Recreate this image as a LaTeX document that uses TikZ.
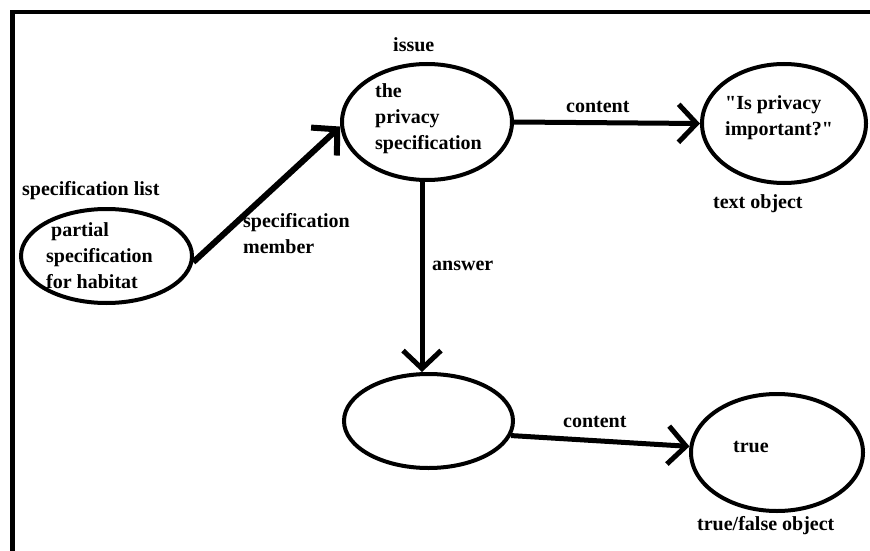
\documentclass[tikz,border=0pt]{standalone}
\usepackage{fontspec}
\setmainfont{Liberation Serif}
\usetikzlibrary{arrows.meta,shapes.geometric}
\begin{document}
\begin{tikzpicture}[x=1pt,y=-1pt,
  ell/.style={draw, ellipse, line width=4pt, inner sep=0pt},
  lbl/.style={font=\fontsize{20}{26}\selectfont\bfseries, inner sep=0pt, anchor=base west, align=left},
  arr/.style={line width=5pt, -{Straight Barb[length=18pt,width=38pt]}}]
\useasboundingbox (0,0) rectangle (870,551);
% frame on the left and top edges
\draw[line width=4.5pt] (12.5,551) -- (12.5,12) -- (870,12);
% concept ellipses
\node[ell, minimum width=171pt, minimum height=94pt]  (A) at (106.5,256) {};
\node[ell, minimum width=170pt, minimum height=116pt] (B) at (427,122) {};
\node[ell, minimum width=164pt, minimum height=119pt] (C) at (784,123.5) {};
\node[ell, minimum width=169pt, minimum height=94pt]  (D) at (428.5,421) {};
\node[ell, minimum width=172pt, minimum height=117pt] (E) at (777,452.5) {};
% texts (multi-line nodes are placed by the baseline of their last line)
\node[lbl] (tA) at (46,288) {\hspace*{5pt}partial\\specification\\for habitat};
\node[lbl] (lA) at (22,195) {specification list};
\node[lbl] (tB) at (375,149) {the\\privacy\\specification};
\node[lbl] (lB) at (393,52) {issue};
\node[lbl, font=\fontsize{20}{25}\selectfont\bfseries] (tC) at (725,135) {\textquotedbl Is privacy\\important?\textquotedbl};
\node[lbl] (lC) at (713,208) {text object};
\node[lbl] (tE) at (733,452) {true};
\node[lbl] (lE) at (697,530) {true/false object};
% connectors
\draw[arr, line width=6pt] (A.-4) -- (B.183);
\draw[arr] (B.0) -- (C.180);
\draw[arr] ([xshift=-5pt]B.south) -- ([xshift=-6.5pt]D.north);
\draw[arr] (D.-10) -- (E.176);
% connector labels
\node[lbl] (m1) at (243,253) {specification\\member};
\node[lbl] (c1) at (566,112) {content};
\node[lbl] (a1) at (432,270) {answer};
\node[lbl] (c2) at (563,427) {content};
\end{tikzpicture}
\end{document}
